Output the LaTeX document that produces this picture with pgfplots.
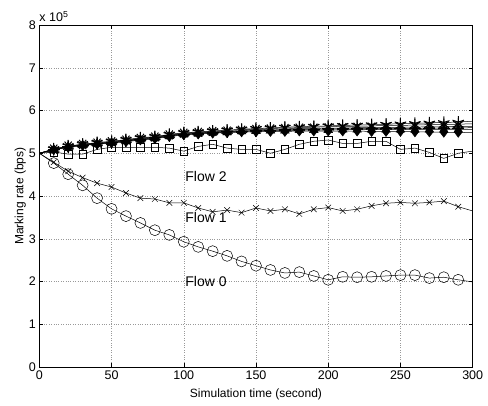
\documentclass[border=0pt]{standalone}
\usepackage{fontspec}
\setmainfont{Liberation Sans}
\usepackage{pgfplots}
\usepackage{pgfplotstable}
\pgfplotsset{compat=1.18}
\pgfplotstableread{
t   f0   f1   f2   a    b    c    d    e    f
0   5.00 5.00 5.00 5.00 5.00 5.00 5.00 5.00 5.00
10  4.77 4.79 5.03 5.10 5.09 5.09 5.09 5.08 5.08
20  4.51 4.58 4.98 5.17 5.16 5.16 5.15 5.15 5.14
30  4.25 4.43 4.98 5.21 5.21 5.20 5.19 5.19 5.18
40  3.95 4.30 5.09 5.25 5.24 5.23 5.22 5.22 5.21
50  3.70 4.21 5.14 5.28 5.27 5.26 5.25 5.25 5.24
60  3.53 4.07 5.14 5.32 5.31 5.30 5.29 5.28 5.27
70  3.37 3.95 5.14 5.36 5.35 5.34 5.33 5.32 5.31
80  3.20 3.93 5.14 5.39 5.38 5.37 5.36 5.35 5.34
90  3.09 3.84 5.12 5.44 5.43 5.42 5.41 5.40 5.39
100 2.93 3.84 5.05 5.48 5.47 5.46 5.45 5.44 5.43
110 2.81 3.72 5.16 5.50 5.49 5.48 5.47 5.46 5.45
120 2.71 3.63 5.21 5.52 5.51 5.50 5.49 5.48 5.47
130 2.60 3.67 5.12 5.54 5.53 5.51 5.50 5.49 5.48
140 2.47 3.61 5.09 5.56 5.55 5.53 5.52 5.51 5.50
150 2.37 3.72 5.09 5.58 5.56 5.55 5.53 5.52 5.50
160 2.27 3.65 5.00 5.59 5.58 5.56 5.54 5.53 5.51
170 2.20 3.69 5.09 5.61 5.59 5.57 5.55 5.53 5.51
180 2.22 3.58 5.21 5.62 5.60 5.58 5.56 5.54 5.52
190 2.13 3.69 5.28 5.63 5.61 5.58 5.56 5.54 5.52
200 2.04 3.73 5.31 5.64 5.62 5.59 5.57 5.54 5.52
210 2.11 3.65 5.23 5.65 5.63 5.59 5.57 5.55 5.52
220 2.10 3.69 5.23 5.66 5.63 5.60 5.57 5.55 5.52
230 2.11 3.77 5.28 5.67 5.64 5.60 5.58 5.55 5.51
240 2.13 3.83 5.28 5.68 5.65 5.60 5.58 5.55 5.51
250 2.15 3.85 5.09 5.69 5.65 5.61 5.58 5.55 5.51
260 2.15 3.83 5.12 5.70 5.66 5.61 5.58 5.55 5.50
270 2.08 3.85 5.02 5.71 5.67 5.62 5.59 5.55 5.50
280 2.10 3.88 4.88 5.72 5.67 5.62 5.59 5.55 5.49
290 2.04 3.75 5.00 5.73 5.68 5.63 5.59 5.55 5.49
300 1.99 3.65 5.05 5.75 5.69 5.63 5.60 5.55 5.48
}\data
\begin{document}
\begin{tikzpicture}
\begin{axis}[
  scale only axis,
  width=433.4pt, height=342pt,
  xmin=0, xmax=300, ymin=0, ymax=8,
  xtick={0,50,100,150,200,250,300}, ytick={0,1,2,3,4,5,6,7,8},
  xticklabels={0,50,100,150,200,250,300},
  tick align=inside,
  major tick length=4pt,
  grid=major,
  grid style={dotted, gray!80, line width=0.5pt},
  axis line style={line width=0.8pt},
  tick style={black, line width=0.5pt},
  /pgf/number format/assume math mode=true,
  tick label style={font=\fontsize{12.5}{14}\selectfont},
  label style={font=\fontsize{12}{14}\selectfont},
  xlabel={Simulation time (second)},
  ylabel={Marking rate (bps)},
  xlabel style={inner sep=1pt, yshift=-5pt},
  ylabel style={yshift=-4pt},
  every axis plot/.append style={black, line width=0.5pt, mark indices={2,...,30}},
  clip=false,
]
\addplot[mark=o, mark size=5.5pt] table[x=t,y=f0]{\data};
\addplot[mark=x, mark size=4pt] table[x=t,y=f1]{\data};
\addplot[mark=square, mark size=3.8pt] table[x=t,y=f2]{\data};
\addplot[mark=star, mark size=6pt, mark options={line width=1pt}] table[x=t,y=a]{\data};
\addplot[mark=asterisk, mark size=6pt, mark options={line width=1pt}] table[x=t,y=b]{\data};
\addplot[mark=star, mark size=6pt, mark options={line width=1pt, rotate=36}] table[x=t,y=c]{\data};
\addplot[mark=+, mark size=6pt, mark options={line width=1pt}] table[x=t,y=d]{\data};
\addplot[mark=triangle*, mark size=5pt] table[x=t,y=e]{\data};
\addplot[mark=diamond*, mark size=5pt] table[x=t,y=f]{\data};
\node[anchor=west, font=\fontsize{14}{16}\selectfont, inner sep=0pt] at (axis cs:101,4.46) {Flow 2};
\node[anchor=west, font=\fontsize{14}{16}\selectfont, inner sep=0pt] at (axis cs:101,3.49) {Flow 1};
\node[anchor=west, font=\fontsize{14}{16}\selectfont, inner sep=0pt] at (axis cs:101,1.99) {Flow 0};
\node[anchor=south west, inner sep=0pt, font=\fontsize{12.5}{14}\selectfont] at (rel axis cs:0,1) [yshift=3pt] {x 10$^{\mathrm{5}}$};
\end{axis}
\pgfresetboundingbox
\path[use as bounding box] (-39.3pt,-38pt) rectangle (448.7pt,367pt);
\end{tikzpicture}
\end{document}
